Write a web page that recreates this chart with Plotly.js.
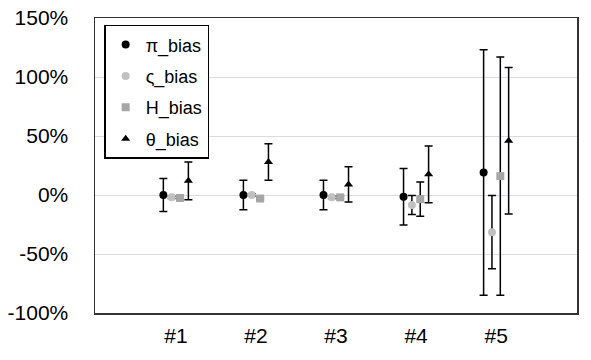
<!DOCTYPE html>
<html>
<head>
<meta charset="utf-8">
<script src="https://cdn.plot.ly/plotly-3.0.1.min.js"></script>
<style>html,body{margin:0;padding:0;background:#fff;}#chart{width:591px;height:360px;}</style>
</head>
<body>
<div id="chart"></div>
<script>
var categories = ["#1", "#2", "#3", "#4", "#5"];
var seriesNames = ["π_bias", "ς_bias", "H_bias", "θ_bias"];
var piBias = [0, 0, 0, -1.5, 19];
var piErr = [14, 12.5, 12.5, 24, 104];
var sigmaBias = [-2, 0, -2, -8.5, -31.5];
var sigmaErr = [1, 1, 1, 8, 31];
var hBias = [-2.5, -3, -2, -3.5, 16];
var hErr = [1, 1, 1, 14.5, 101];
var thetaBias = [12, 28, 9, 17.5, 46];
var thetaErr = [16, 15.5, 15, 24, 62];
var yTickVals = [-100, -50, 0, 50, 100, 150];
var yTickText = ["-100%", "-50%", "0%", "50%", "100%", "150%"];

var fam = "Liberation Sans, Arial, sans-serif";
function mk(name, y, err, symbol, color, group) {
  return {
    type: "scatter", mode: "markers", name: name, x: categories, y: y,
    legendgroup: group,
    marker: {symbol: symbol, size: 8, color: color, line: {width: 0}},
    error_y: {type: "data", array: err, visible: true, color: "#000", thickness: 1.5, width: 4}
  };
}
var data = [
  mk(seriesNames[0], piBias, piErr, "circle", "#000000", "a"),
  mk(seriesNames[1], sigmaBias, sigmaErr, "circle", "#c0c0c0", "b"),
  mk(seriesNames[2], hBias, hErr, "square", "#a6a6a6", "c"),
  mk(seriesNames[3], thetaBias, thetaErr, "triangle-up", "#000000", "d")
];
var layout = {
  width: 591, height: 360,
  margin: {l: 95, r: 14, t: 18, b: 47},
  paper_bgcolor: "#fff", plot_bgcolor: "#fff",
  scattermode: "group", scattergap: 0.583,
  showlegend: true,
  legend: {x: 0.019, y: 0.977, xanchor: "left", yanchor: "top",
    bgcolor: "#fff", bordercolor: "#000", borderwidth: 1.5, itemwidth: 30,
    font: {family: fam, size: 18, color: "#000"}, tracegroupgap: 5},
  xaxis: {type: "category", range: [-1.01, 5.01], showgrid: false, zeroline: false,
    showline: true, mirror: true, linecolor: "#333", linewidth: 1.5, ticks: "",
    tickfont: {family: fam, size: 21, color: "#000"}, ticklabelstandoff: 3},
  yaxis: {range: [-100, 150], tickvals: yTickVals, ticktext: yTickText,
    showgrid: true, gridcolor: "#dcdae0", gridwidth: 1, zeroline: false,
    showline: true, mirror: true, linecolor: "#333", linewidth: 1.5, ticks: "",
    tickfont: {family: fam, size: 21, color: "#000"}, ticklabelstandoff: 21}
};
Plotly.newPlot("chart", data, layout, {displayModeBar: false, staticPlot: true});
</script>
</body>
</html>
